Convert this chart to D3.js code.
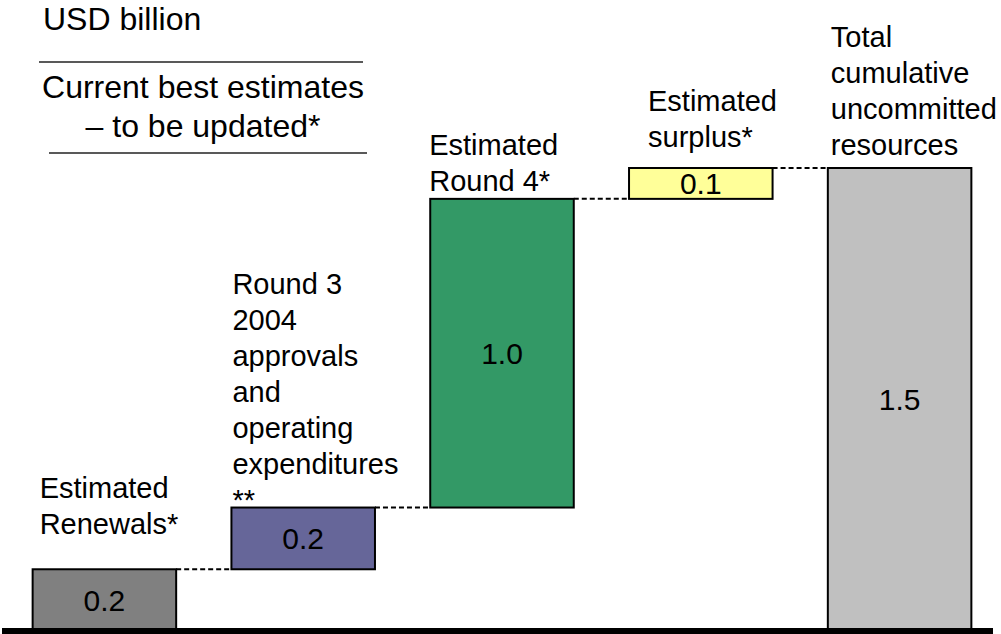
<!DOCTYPE html>
<html>
<head>
<meta charset="utf-8">
<script src="https://cdn.jsdelivr.net/npm/d3@7"></script>
<style>
  html, body { margin: 0; padding: 0; background: #fff; }
  svg { display: block; font-family: "Liberation Sans", Arial, sans-serif; }
</style>
</head>
<body>
<svg id="chart" width="1001" height="634"></svg>
<script>
// Waterfall of uncommitted resources (USD billion)
const categories = ["renewals", "round3", "round4", "surplus", "total"];
const labelLines = [
  ["Estimated", "Renewals*"],
  ["Round 3", "2004", "approvals", "and", "operating", "expenditures", "**"],
  ["Estimated", "Round 4*"],
  ["Estimated", "surplus*"],
  ["Total", "cumulative", "uncommitted", "resources"]
];
const steps = [0.2, 0.2, 1.0, 0.1];      // increments
const totalValue = 1.5;                  // closing total
const valueLabels = ["0.2", "0.2", "1.0", "0.1", "1.5"];
const fills = ["#808080", "#666699", "#339966", "#ffff99", "#c0c0c0"];

// label placement: horizontal offset from bar left, baseline of first line
const labelLayout = [
  { dx: 7,  y0: 498 },
  { dx: 1,  y0: 294 },
  { dx: -1, y0: 155 },
  { dx: 19, y0: 111 },
  { dx: 3,  y0: 47 }
];
const lineStep = 36;

const svg = d3.select("#chart");

const x = d3.scaleBand()
  .domain(categories)
  .range([5, 999])
  .paddingInner(0.278)
  .paddingOuter(0.139);

const y = d3.scaleLinear().domain([0, 1.5]).range([631, 168]);

// build running segments
let run = 0;
const segs = steps.map((v, i) => {
  const s = { key: categories[i], y0: run, y1: run + v };
  run += v;
  return s;
});
segs.push({ key: categories[4], y0: 0, y1: totalValue });
segs.forEach((s, i) => { s.fill = fills[i]; s.label = valueLabels[i]; s.lines = labelLines[i]; s.layout = labelLayout[i]; });

// header block
const head = svg.append("g").attr("font-size", 32).attr("fill", "#000");
head.append("text").attr("x", 43).attr("y", 30).text("USD billion");
head.append("line").attr("x1", 39).attr("x2", 363).attr("y1", 62).attr("y2", 62)
  .attr("stroke", "#222").attr("stroke-width", 1.5);
head.append("text").attr("x", 203).attr("y", 98).attr("text-anchor", "middle").text("Current best estimates");
head.append("text").attr("x", 203).attr("y", 137).attr("text-anchor", "middle").text("\u2013 to be updated*");
head.append("line").attr("x1", 49).attr("x2", 367).attr("y1", 153).attr("y2", 153)
  .attr("stroke", "#222").attr("stroke-width", 1.5);

// dashed connectors between consecutive bars
const conn = svg.append("g");
for (let i = 0; i < segs.length - 1; i++) {
  const level = segs[i].y1;
  conn.append("line")
    .attr("x1", x(segs[i].key) + x.bandwidth())
    .attr("x2", x(segs[i + 1].key))
    .attr("y1", y(level)).attr("y2", y(level))
    .attr("stroke", "#000").attr("stroke-width", 2)
    .attr("stroke-dasharray", "5,3");
}

// bars
svg.append("g").selectAll("rect")
  .data(segs).join("rect")
  .attr("x", d => x(d.key))
  .attr("y", d => y(d.y1))
  .attr("width", x.bandwidth())
  .attr("height", d => y(d.y0) - y(d.y1))
  .attr("fill", d => d.fill)
  .attr("stroke", "#000")
  .attr("stroke-width", 2);

// value labels inside bars
svg.append("g").selectAll("text")
  .data(segs).join("text")
  .attr("x", d => x(d.key) + x.bandwidth() / 2)
  .attr("y", d => (y(d.y0) + y(d.y1)) / 2)
  .attr("dy", "0.35em")
  .attr("text-anchor", "middle")
  .attr("font-size", 30)
  .text(d => d.label);

// category labels above bars
const cat = svg.append("g").attr("font-size", 29);
segs.forEach(s => {
  const t = cat.append("text")
    .attr("x", x(s.key) + s.layout.dx)
    .attr("y", s.layout.y0);
  s.lines.forEach((ln, j) => {
    t.append("tspan")
      .attr("x", x(s.key) + s.layout.dx)
      .attr("y", s.layout.y0 + j * lineStep)
      .text(ln);
  });
});

// baseline
svg.append("line")
  .attr("x1", 2).attr("x2", 993)
  .attr("y1", y(0)).attr("y2", y(0))
  .attr("stroke", "#000").attr("stroke-width", 6);
</script>
</body>
</html>
